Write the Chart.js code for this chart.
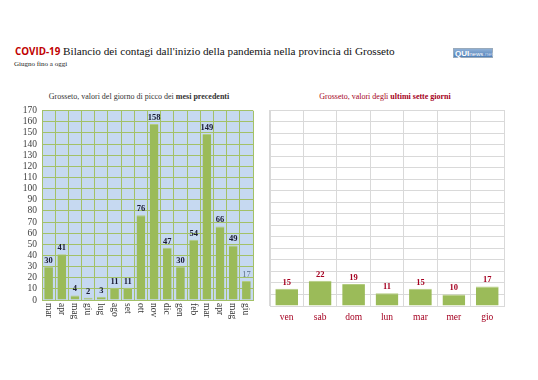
<!DOCTYPE html>
<html><head><meta charset="utf-8">
<script src="https://cdn.jsdelivr.net/npm/chart.js@4"></script>
<style>
html,body{margin:0;padding:0;background:#fff;width:538px;height:380px;overflow:hidden;position:relative;font-family:"Liberation Serif",serif}
#t{position:absolute;left:15px;top:45px;font-size:11.2px;color:#111;white-space:nowrap}
#t b{font-family:"Open Sans","Liberation Sans",sans-serif;color:#c00000;font-weight:700;font-size:9.8px}
#st{position:absolute;left:14px;top:60px;font-size:7px;color:#222}
#logo{position:absolute;left:453px;top:48px;width:40px;height:10px;background:linear-gradient(#8fb0d6,#4f7fb8);border:1px solid #9ab;box-sizing:border-box;font-family:"Liberation Sans",sans-serif;font-size:8px;line-height:9px;color:#fff;white-space:nowrap;padding-left:1px}
#logo b{font-weight:900}
#logo span{font-size:6px}
#logo i{font-style:normal;font-size:6px;color:#c9d9ee}
.sub{position:absolute;top:92px;font-size:8px;white-space:nowrap;transform:translateX(-50%)}
#s1{left:139px;color:#333}
#s2{left:385px;color:#a50021}
canvas{position:absolute}
#c1{left:0;top:100px}
#c2{left:265px;top:100px}
</style></head><body>
<div id="t"><b>COVID-19</b> Bilancio dei contagi dall'inizio della pandemia nella provincia di Grosseto</div>
<div id="st">Giugno fino a oggi</div>
<div id="logo"><b>QUI</b><span>news</span><i>.net</i></div>
<div class="sub" id="s1">Grosseto, valori del giorno di picco dei <b>mesi precedenti</b></div>
<div class="sub" id="s2">Grosseto, valori degli <b>ultimi sette giorni</b></div>
<canvas id="c1" width="265" height="245"></canvas>
<canvas id="c2" width="273" height="245"></canvas>
<script>
const monthLabels = ["mar","apr","mag","giu","lug","ago","set","ott","nov","dic","gen","feb","mar","apr","mag","giu"];
const monthPeaks = [30,41,4,2,3,11,11,76,158,47,30,54,149,66,49,17];
const dayLabels = ["ven","sab","dom","lun","mar","mer","gio"];
const dayValues = [15,22,19,11,15,10,17];
const yMax = 170;
const yStep = 10;

const serif = '"Liberation Serif", serif';

const bgPlugin = {
  id:'bg',
  beforeDraw(chart, args, opts){
    if(!opts.color) return;
    const a = chart.chartArea, ctx = chart.ctx;
    ctx.save(); ctx.fillStyle = opts.color; ctx.fillRect(a.left, a.top, a.right-a.left, a.bottom-a.top); ctx.restore();
  }
};
const labelPlugin = {
  id:'vals',
  afterDatasetsDraw(chart, args, opts){
    const ctx = chart.ctx, meta = chart.getDatasetMeta(0), data = chart.data.datasets[0].data;
    ctx.save();
    ctx.textAlign='center'; ctx.textBaseline='bottom';
    meta.data.forEach((bar,i)=>{
      const last = opts.lastLight && i===data.length-1;
      ctx.font = (last ? '' : 'bold ') + '8.5px ' + serif;
      ctx.fillStyle = last ? '#5a6f8a' : opts.color;
      ctx.fillText(String(data[i]), bar.x, bar.y-2);
    });
    ctx.restore();
  }
};
const xLabelPlugin = {
  id:'xl',
  afterDraw(chart, args, opts){
    const ctx = chart.ctx, sc = chart.scales.x;
    ctx.save(); ctx.fillStyle = opts.color; ctx.font = opts.size+'px '+serif;
    chart.data.labels.forEach((l,i)=>{
      const x = sc.getPixelForTick(i);
      if(opts.rotate){
        ctx.save(); ctx.translate(x, sc.top+3); ctx.rotate(Math.PI/2);
        ctx.textAlign='left'; ctx.textBaseline='middle'; ctx.fillText(l,0,0.5); ctx.restore();
      } else {
        ctx.textAlign='center'; ctx.textBaseline='middle'; ctx.fillText(l,x,sc.top+11);
      }
    });
    ctx.restore();
  }
};

new Chart(document.getElementById('c1'), {
  type:'bar',
  data:{labels:monthLabels, datasets:[{data:monthPeaks, backgroundColor:'#9bbb59', borderColor:'#b3cc7f', borderWidth:{top:1,left:0,right:0,bottom:0}, barPercentage:0.66, categoryPercentage:1}]},
  plugins:[bgPlugin,labelPlugin,xLabelPlugin],
  options:{
    responsive:false, animation:false, devicePixelRatio:1,
    layout:{padding:{top:10,right:12,left:0,bottom:0}},
    plugins:{legend:{display:false}, tooltip:{enabled:false}, bg:{color:'#c6d9f1'}, vals:{color:'#1a1a33', lastLight:true}, xl:{color:'#333', size:9.5, rotate:true}},
    scales:{
      x:{afterFit(s){s.height=45;}, ticks:{display:false}, grid:{color:'#a3c167', lineWidth:1, offset:true, drawTicks:false}, border:{color:'#a3c167'}},
      y:{min:0,max:yMax, afterFit(s){s.width=42;}, ticks:{stepSize:yStep, autoSkip:false, color:'#404040', font:{family:serif,size:9.5}, padding:5}, grid:{color:'#a3c167', drawTicks:false}, border:{color:'#a3c167'}}
    }
  }
});

new Chart(document.getElementById('c2'), {
  type:'bar',
  data:{labels:dayLabels, datasets:[{data:dayValues, backgroundColor:'#9bbb59', borderColor:'#b3cc7f', borderWidth:{top:1,left:0,right:0,bottom:0}, barPercentage:0.68, categoryPercentage:1}]},
  plugins:[labelPlugin,xLabelPlugin],
  options:{
    responsive:false, animation:false, devicePixelRatio:1,
    layout:{padding:{top:10,right:34,left:5,bottom:0}},
    plugins:{legend:{display:false}, tooltip:{enabled:false}, vals:{color:'#a50021'}, xl:{color:'#a50021', size:9.5, rotate:false}},
    scales:{
      x:{afterFit(s){s.height=39;}, ticks:{display:false}, grid:{color:'#d9d9d9', offset:true, drawTicks:false}, border:{color:'#d9d9d9'}},
      y:{min:0,max:yMax, afterFit(s){s.width=0;}, ticks:{display:false, stepSize:yStep, autoSkip:false}, grid:{color:'#d9d9d9', drawTicks:false}, border:{color:'#d9d9d9'}}
    }
  }
});
</script>
</body></html>
